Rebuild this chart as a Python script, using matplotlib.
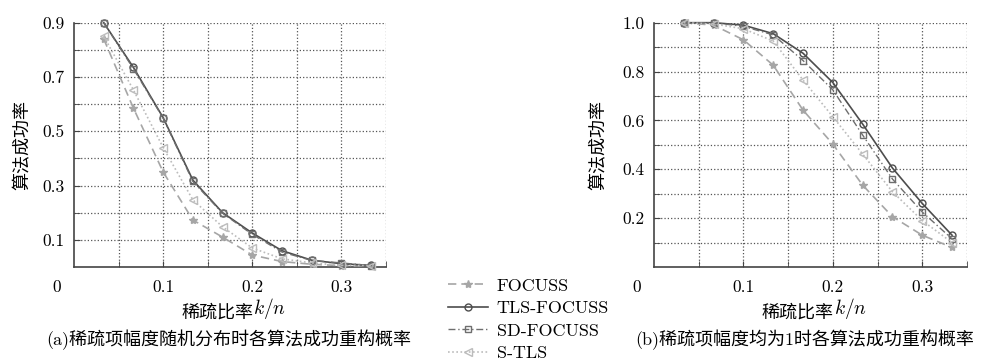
import numpy as np
import matplotlib
matplotlib.use("Agg")
import matplotlib.pyplot as plt
from matplotlib.ticker import FixedLocator

plt.rcParams['font.family'] = ['cmr10', 'Noto Sans CJK SC', 'DejaVu Sans']
plt.rcParams['mathtext.fontset'] = 'cm'
plt.rcParams['axes.formatter.use_mathtext'] = True

# sparsity ratio k/n, k = 1..10, n = 30
ratio = [1/30, 2/30, 3/30, 4/30, 5/30, 6/30, 7/30, 8/30, 9/30, 10/30]

# (a) random amplitudes
a_focuss = [0.84, 0.585, 0.35, 0.173, 0.11, 0.044, 0.02, 0.01, 0.005, 0.004]
a_tls    = [0.90, 0.735, 0.55, 0.32, 0.20, 0.125, 0.06, 0.025, 0.012, 0.006]
a_sd     = [0.90, 0.73, 0.548, 0.315, 0.198, 0.12, 0.055, 0.024, 0.015, 0.005]
a_stls   = [0.85, 0.652, 0.44, 0.247, 0.148, 0.07, 0.03, 0.015, 0.006, 0.005]

# (b) unit amplitudes
b_focuss = [1.0, 0.99, 0.93, 0.826, 0.642, 0.503, 0.335, 0.206, 0.13, 0.08]
b_tls    = [1.0, 1.0, 0.99, 0.955, 0.875, 0.755, 0.585, 0.405, 0.26, 0.13]
b_sd     = [1.0, 1.0, 0.985, 0.95, 0.845, 0.725, 0.54, 0.36, 0.225, 0.115]
b_stls   = [1.0, 0.995, 0.975, 0.925, 0.765, 0.615, 0.462, 0.308, 0.19, 0.10]

names = ['FOCUSS', 'TLS-FOCUSS', 'SD-FOCUSS', 'S-TLS']
captions = ['(a)稀疏项幅度随机分布时各算法成功重构概率',
            '(b)稀疏项幅度均为1时各算法成功重构概率']

styles = [
    dict(color='#a6a6a6', ls=(0, (5, 3)), marker='*', ms=6, mfc='#a6a6a6', lw=1.2),
    dict(color='#4d4d4d', ls='-', marker='o', ms=5, mfc='none', lw=1.2),
    dict(color='#6e6e6e', ls=(0, (5, 2, 1, 2)), marker='s', ms=4.5, mfc='none', lw=1.0),
    dict(color='#bcbcbc', ls=(0, (1, 1.5)), marker='<', ms=5.5, mfc='none', lw=1.2),
]

fig = plt.figure(figsize=(9.83, 3.59), dpi=100)
ax1 = fig.add_axes([0.0753, 0.2563, 0.3174, 0.6805])
ax2 = fig.add_axes([0.6653, 0.2563, 0.3184, 0.6805])

panels = [
    (ax1, [a_focuss, a_tls, a_sd, a_stls], 0.9,
     [0.1, 0.3, 0.5, 0.7, 0.9], [0.2, 0.4, 0.6, 0.8], -0.138),
    (ax2, [b_focuss, b_tls, b_sd, b_stls], 1.0,
     [0.2, 0.4, 0.6, 0.8, 1.0], [0.1, 0.3, 0.5, 0.7, 0.9], -0.150),
]

handles = []
for ax, series, ytop, ymaj, ymin, ylx in panels:
    hs = []
    for vals, st, nm in zip(series, styles, names):
        h, = ax.plot(ratio, vals, label=nm, clip_on=False, zorder=3,
                     mew=1.0, **st)
        hs.append(h)
    handles = hs
    ax.set_xlim(0, 0.35)
    ax.set_ylim(0, ytop)
    ax.xaxis.set_major_locator(FixedLocator([0.1, 0.2, 0.3]))
    ax.xaxis.set_minor_locator(FixedLocator([0.05, 0.15, 0.25, 0.35]))
    ax.yaxis.set_major_locator(FixedLocator(ymaj))
    ax.yaxis.set_minor_locator(FixedLocator(ymin))
    ax.set_xticklabels(['0.1', '0.2', '0.3'])
    ax.set_yticklabels(['%.1f' % v for v in ymaj])
    ax.grid(True, which='both', ls=':', color='#555555', lw=0.9)
    ax.tick_params(which='both', direction='in', length=4, color='#444444',
                   top=False, right=False, labelsize=12.5)
    ax.tick_params(axis='x', pad=9)
    ax.tick_params(axis='y', pad=7)
    for s in ['top', 'right']:
        ax.spines[s].set_visible(False)
    for s in ['left', 'bottom']:
        ax.spines[s].set_color('#444444')
        ax.spines[s].set_linewidth(1.2)
    # x label: Chinese part + italic k/n
    t = ax.text(0.574, -0.184, '稀疏比率', transform=ax.transAxes,
                ha='right', va='center', fontsize=13)
    ax.annotate('$k/n$', xy=(1, -0.04), xycoords=t, ha='left', va='bottom',
                fontsize=14)
    ax.set_ylabel('算法成功率', fontsize=13)
    ax.yaxis.set_label_coords(ylx, 0.5)
    ax.text(-0.055, -0.082, '0', transform=ax.transAxes, ha='center',
            va='center', fontsize=12.5)

fig.text(229/983, 1 - 340/359, captions[0], ha='center', va='center', fontsize=13)
fig.text(805/983, 1 - 340/359, captions[1], ha='center', va='center', fontsize=13)

fig.legend(handles, names, loc='upper left', bbox_to_anchor=(448/983, 1 - 278/359),
           frameon=False, fontsize=13, handlelength=2.2, handletextpad=0.5,
           labelspacing=0.38, borderpad=0, borderaxespad=0)

fig.savefig('out.png', dpi=100)
